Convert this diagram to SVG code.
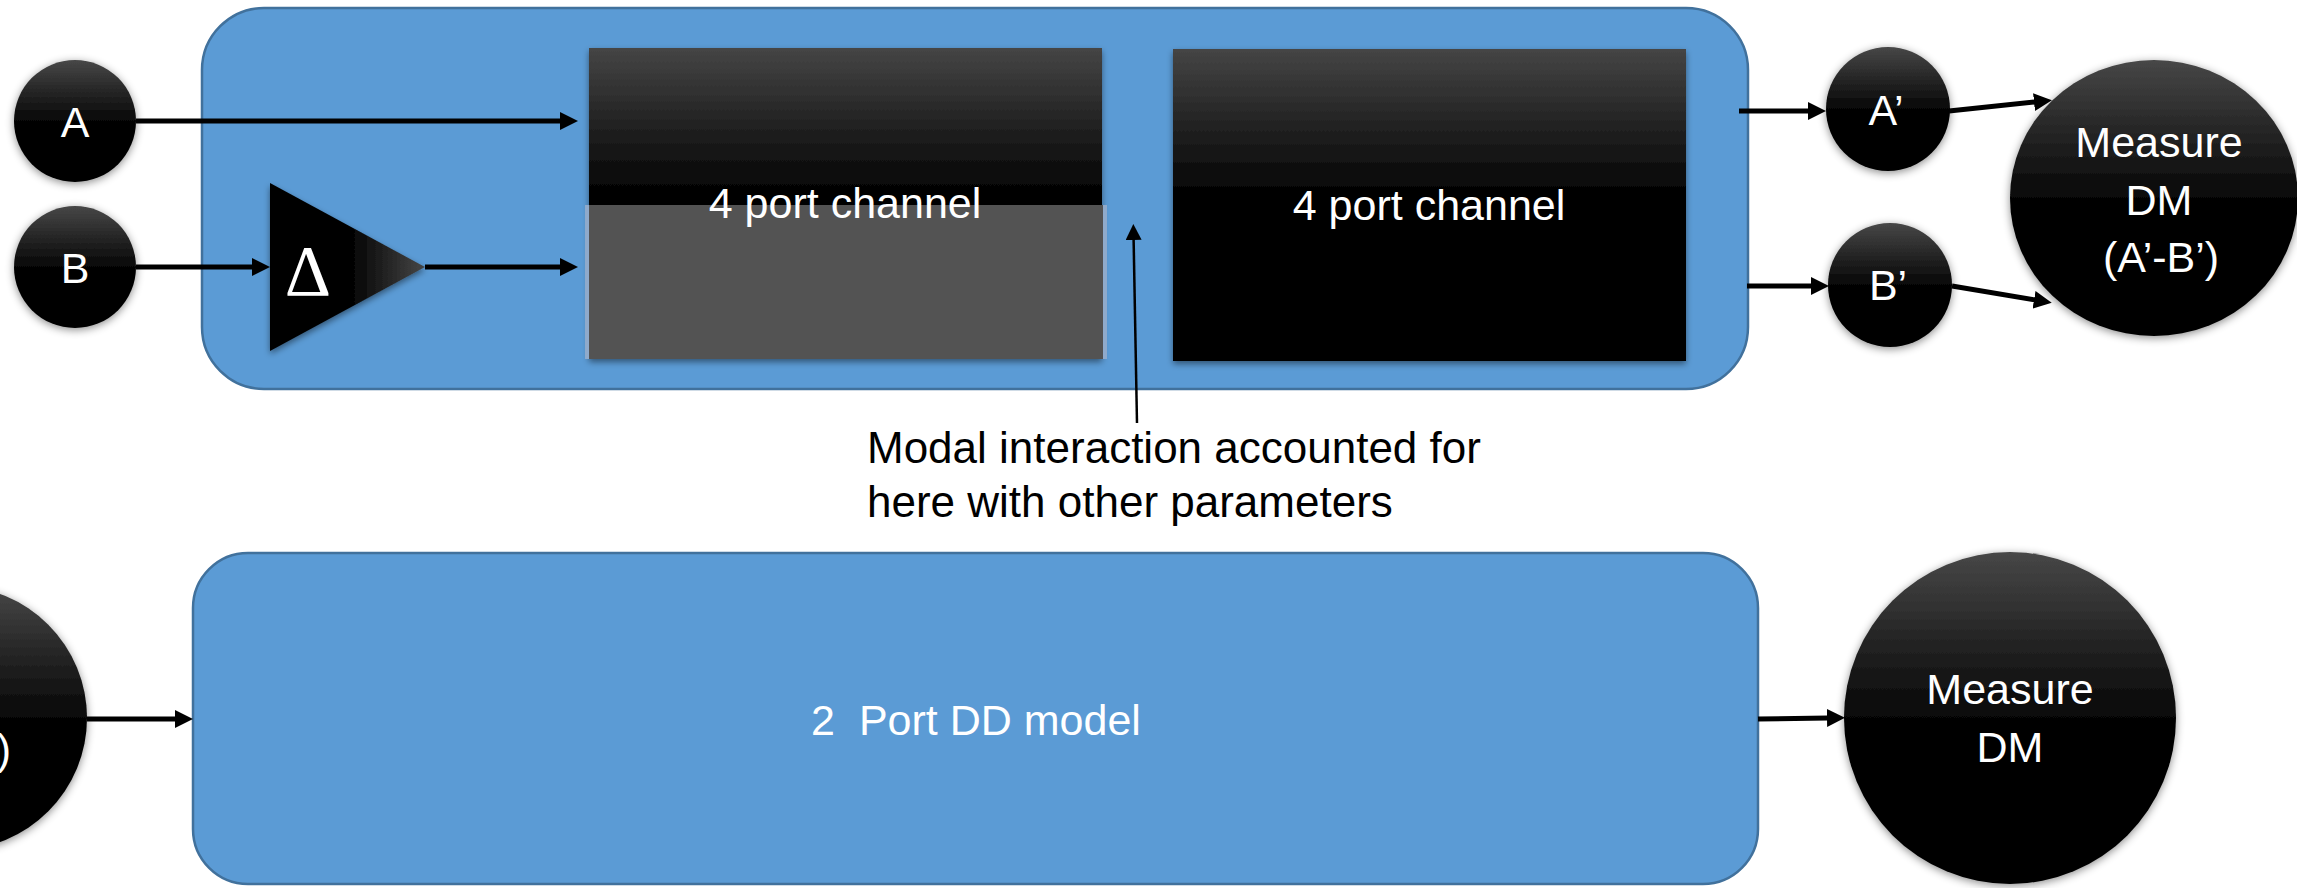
<svg xmlns="http://www.w3.org/2000/svg" width="2297" height="888" viewBox="0 0 2297 888">
<style>
.lbl{font-family:"Liberation Sans",Arial,sans-serif;font-size:43px;fill:#ffffff;text-anchor:middle}
.note{font-family:"Liberation Sans",Arial,sans-serif;font-size:44px;fill:#000000}
.panel{fill:#5B9BD5;stroke:#41719C;stroke-width:2.5}
.orb{fill:url(#gDark);filter:url(#shOrb)}
.thick{stroke:#000;stroke-width:5;fill:none;marker-end:url(#arrT)}
.thin{stroke:#000;stroke-width:2.5;fill:none;marker-end:url(#arrS)}
</style>
<defs>
<linearGradient id="gDark" x1="0" y1="0" x2="0" y2="1">
<stop offset="0" stop-color="#474747"/>
<stop offset="0.5" stop-color="#060606"/>
<stop offset="1" stop-color="#000000"/>
</linearGradient>
<linearGradient id="gBox" x1="0" y1="0" x2="0" y2="1">
<stop offset="0" stop-color="#454545"/>
<stop offset="0.45" stop-color="#050505"/>
<stop offset="1" stop-color="#000000"/>
</linearGradient>
<linearGradient id="gTri" x1="0" y1="0" x2="1" y2="0">
<stop offset="0" stop-color="#000000"/>
<stop offset="0.5" stop-color="#000000"/>
<stop offset="1" stop-color="#464646"/>
</linearGradient>
<filter id="shOrb" x="-20%" y="-20%" width="140%" height="140%">
<feDropShadow dx="0" dy="2" stdDeviation="4" flood-color="#000" flood-opacity="0.45"/>
</filter>
<filter id="shBox" x="-10%" y="-10%" width="120%" height="125%">
<feDropShadow dx="0" dy="3" stdDeviation="3" flood-color="#000" flood-opacity="0.45"/>
</filter>
<marker id="arrT" markerUnits="userSpaceOnUse" markerWidth="18" markerHeight="18" viewBox="0 0 18 18" refX="1" refY="9" orient="auto">
<path d="M0,0 L18,9 L0,18 z" fill="#000"/>
</marker>
<marker id="arrS" markerUnits="userSpaceOnUse" markerWidth="16" markerHeight="16" viewBox="0 0 16 16" refX="1" refY="8" orient="auto">
<path d="M0,0 L16,8 L0,16 z" fill="#000"/>
</marker>
</defs>

<g id="panel-top">
<rect class="panel" x="202" y="8" width="1546" height="381" rx="62" ry="62"/>
</g>

<g id="channel1">
<rect x="589" y="48" width="513" height="311" fill="url(#gBox)" filter="url(#shBox)"/>
<rect x="585" y="205" width="522" height="154" fill="#8FAACB"/>
<rect x="589" y="205" width="514" height="154" fill="#535353"/>
<text class="lbl" x="845" y="218">4 port channel</text>
</g>

<g id="channel2">
<rect x="1173" y="49" width="513" height="312" fill="url(#gBox)" filter="url(#shBox)"/>
<text class="lbl" x="1429" y="220">4 port channel</text>
</g>

<g id="delta">
<polygon points="270,183 425,267 270,351" fill="url(#gTri)" filter="url(#shBox)"/>
<text x="308" y="295" font-family="'Liberation Serif','Times New Roman',serif" font-size="72" fill="#fff" text-anchor="middle">Δ</text>
</g>

<g id="nodeA">
<circle class="orb" cx="75" cy="121" r="61"/>
<text class="lbl" x="75" y="137">A</text>
</g>
<g id="nodeB">
<circle class="orb" cx="75" cy="267" r="61"/>
<text class="lbl" x="75" y="283">B</text>
</g>

<g id="nodeA2">
<circle class="orb" cx="1888" cy="109" r="62"/>
<text class="lbl" x="1886" y="125">A’</text>
</g>
<g id="nodeB2">
<circle class="orb" cx="1890" cy="285" r="62"/>
<text class="lbl" x="1888" y="300">B’</text>
</g>

<g id="measure-top">
<ellipse class="orb" cx="2154" cy="198" rx="144" ry="138"/>
<text class="lbl" x="2159" y="157">Measure</text>
<text class="lbl" x="2159" y="215">DM</text>
<text class="lbl" x="2161" y="272">(A’-B’)</text>
</g>

<g id="note">
<text class="note" x="867" y="463">Modal interaction accounted for</text>
<text class="note" x="867" y="517">here with other parameters</text>
</g>

<g id="input-bottom">
<circle class="orb" cx="-45" cy="718" r="132"/>
<text class="lbl" x="4" y="764">)</text>
</g>

<g id="panel-bottom">
<rect class="panel" x="193" y="553" width="1565" height="331" rx="55" ry="55"/>
<text class="lbl" x="976" y="735" xml:space="preserve">2  Port DD model</text>
</g>

<g id="measure-bottom">
<circle class="orb" cx="2010" cy="718" r="166"/>
<text class="lbl" x="2010" y="704">Measure</text>
<text class="lbl" x="2010" y="762">DM</text>
</g>

<g id="connectors">
<line class="thick" x1="136" y1="121" x2="561" y2="121"/>
<line class="thick" x1="136" y1="267" x2="253" y2="267"/>
<line class="thick" x1="425" y1="267" x2="561" y2="267"/>
<line class="thick" x1="1739" y1="111" x2="1809" y2="111"/>
<line class="thick" x1="1747" y1="286" x2="1812" y2="286"/>
<line class="thick" x1="1949" y1="111" x2="2035" y2="102"/>
<line class="thick" x1="1952" y1="286" x2="2035" y2="300"/>
<line class="thick" x1="87" y1="719" x2="176" y2="719"/>
<line class="thick" x1="1758" y1="719" x2="1828" y2="718"/>
<line class="thin" x1="1137" y1="423" x2="1133.6" y2="239"/>
</g>
</svg>
